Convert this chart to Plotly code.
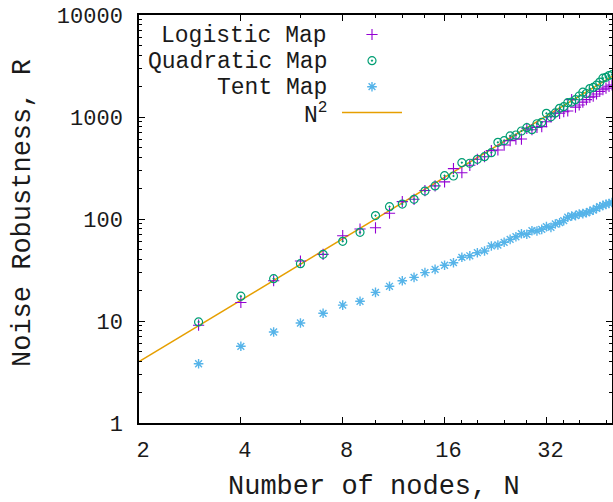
import plotly.graph_objects as go

# ---- data ----
n_nodes = list(range(3, 51))
logistic_r = [9.1, 15.2, 24.8, 38.7, 45, 68.6, 79.8, 82, 114, 148, 156, 190, 211, 231, 312, 284,
              336, 385, 408, 468, 475, 531, 586, 608, 608, 775, 751, 792, 804, 899, 1007, 1096,
              1087, 1127, 1145, 1480, 1250, 1312, 1400, 1480, 1560, 1600, 1680, 1780, 1850, 1920,
              2000, 2060]
quadratic_r = [9.8, 17.5, 26, 36.5, 45, 60.4, 74, 108, 132, 140, 156, 188, 211, 266, 264, 357,
               352, 385, 408, 447, 565, 586, 652, 666, 729, 785, 751, 859, 887, 1087, 1003, 1096,
               1217, 1262, 1381, 1400, 1480, 1606, 1750, 1700, 1900, 1950, 2050, 2200, 2400, 2450,
               2550, 2600]
tent_r = [3.81, 5.65, 7.8, 9.56, 11.9, 14.3, 15.6, 19.1, 21.9, 24.8, 26.8, 29.8, 32.1, 35.2, 37.3,
          42.1, 43.6, 46.7, 48.6, 54.4, 55.6, 59.1, 63.2, 67, 71.7, 70.8, 76.8, 76.3, 79.2, 84.1,
          82.8, 89.3, 92, 96.3, 104, 107, 108, 112, 113, 115, 119, 122, 127, 132, 136, 139, 142, 145]
n_fit = [2, 50]
fit_r = [n ** 2 for n in n_fit]

x_ticks = [2, 4, 8, 16, 32]
x_minor = [6, 10, 12, 14, 18, 20, 24, 28, 36, 40, 48]
y_ticks = [1, 10, 100, 1000, 10000]
y_ticklabels = ["1", "10", "100", "1000", "10000"]
legend_labels = ["Logistic Map", "Quadratic Map", "Tent Map", "N<sup>2</sup>"]

PURPLE = "#9400d3"
GREEN = "#009e73"
BLUE = "#56b4e9"
ORANGE = "#e69f00"
FONT = "Liberation Mono, Courier New, monospace"
TXT = "#1a1a1a"

W, H = 613, 502
L, R, T, B = 139, 612, 15, 423

plus_marker = dict(symbol="cross-thin-open", size=8, color=PURPLE, line=dict(color=PURPLE, width=1.1))
circ_marker = dict(symbol="circle-open-dot", size=8, color=GREEN, line=dict(color=GREEN, width=1.2))
star_marker = dict(symbol="asterisk-open", size=8, color=BLUE, line=dict(color=BLUE, width=1.4))

fig = go.Figure()
fig.add_trace(go.Scatter(x=n_fit, y=fit_r, mode="lines", line=dict(color=ORANGE, width=1.5),
                         showlegend=False))
fig.add_trace(go.Scatter(x=n_nodes, y=logistic_r, mode="markers", showlegend=False, marker=plus_marker))
fig.add_trace(go.Scatter(x=n_nodes, y=quadratic_r, mode="markers", showlegend=False, marker=circ_marker))
fig.add_trace(go.Scatter(x=n_nodes, y=tent_r, mode="markers", showlegend=False, marker=star_marker))


# ---- custom gnuplot-style key (text left, sample right) ----
def px_x(p):
    return (p - L) / (R - L)


def px_y(p):
    return 1 - (p - T) / (B - T)


row_y = [34.5, 60.7, 86.7, 112.5]
sample_x = px_x(372)
for mk, ry in zip([plus_marker, circ_marker, star_marker], row_y[:3]):
    fig.add_trace(go.Scatter(x=[sample_x], y=[px_y(ry)], xaxis="x2", yaxis="y2", mode="markers",
                             showlegend=False, hoverinfo="skip", marker=mk))
fig.add_trace(go.Scatter(x=[px_x(342), px_x(402)], y=[px_y(row_y[3])] * 2, xaxis="x2", yaxis="y2",
                         mode="lines", showlegend=False, hoverinfo="skip",
                         line=dict(color=ORANGE, width=1.5)))

annotations = []
for lbl, ry in zip(legend_labels, row_y):
    annotations.append(dict(text=lbl, xref="paper", yref="paper", x=px_x(329), y=px_y(ry + 1),
                            xanchor="right", yanchor="middle", showarrow=False,
                            font=dict(family=FONT, size=23, color=TXT)))
annotations.append(dict(text="Number of nodes, N", xref="paper", yref="paper",
                        x=px_x(374), y=px_y(487), xanchor="center", yanchor="middle",
                        showarrow=False, font=dict(family=FONT, size=27, color=TXT)))
annotations.append(dict(text="Noise Robustness, R", xref="paper", yref="paper",
                        x=px_x(23), y=px_y(213), xanchor="center", yanchor="middle", textangle=-90,
                        showarrow=False, font=dict(family=FONT, size=27, color=TXT)))

axis_common = dict(showline=True, linecolor="black", linewidth=1.5, mirror="ticks",
                   ticks="inside", ticklen=6, tickwidth=1, tickcolor="black", showgrid=False,
                   zeroline=False, automargin=False,
                   tickfont=dict(family=FONT, size=22, color=TXT))

fig.update_layout(
    width=W, height=H,
    margin=dict(l=L, r=W - R, t=T, b=H - B, pad=0, autoexpand=False),
    paper_bgcolor="white", plot_bgcolor="white",
    showlegend=False,
    xaxis=dict(type="log", range=[0.30103, 1.69897], tickvals=x_ticks,
               ticktext=[str(v) for v in x_ticks], ticklabelshift=4, ticklabelstandoff=6,
               minor=dict(tickvals=x_minor, ticks="inside", ticklen=3, tickcolor="black", showgrid=False),
               **axis_common),
    yaxis=dict(type="log", range=[0, 4], tickvals=y_ticks, ticktext=y_ticklabels,
               ticklabelstandoff=10,
               minor=dict(ticks="inside", ticklen=3, tickcolor="black", dtick="D1", showgrid=False),
               **axis_common),
    xaxis2=dict(overlaying="x", range=[0, 1], visible=False, fixedrange=True),
    yaxis2=dict(overlaying="y", range=[0, 1], visible=False, fixedrange=True),
    annotations=annotations,
)

fig.write_html("out.html", config={"displayModeBar": False},
               post_script="document.body.style.margin='0';document.body.style.overflow='hidden';")
